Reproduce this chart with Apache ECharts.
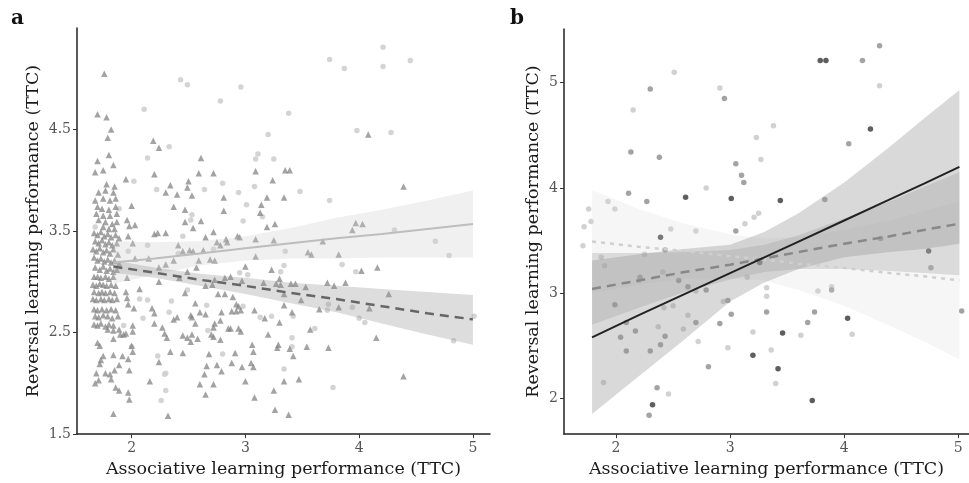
<!DOCTYPE html>
<html><head><meta charset="utf-8">
<script src="https://cdn.jsdelivr.net/npm/echarts@6/dist/echarts.min.js"></script>
<style>html,body{margin:0;padding:0;background:#fff}#c{width:969px;height:483px}</style>
</head><body><div id="c"></div>
<script>
// ---------- tick labels ----------
const xTicks = [2, 3, 4, 5];
const yTicksA = [1.5, 2.5, 3.5, 4.5];
const yTicksB = [2, 3, 4, 5];

// ---------- panel a : triangles (group 1) ----------
const aTriangles = [
[1.76,5.05],[1.70,4.65],[1.78,4.62],[1.82,4.50],[1.79,4.42],[1.80,4.25],[1.70,4.19],[1.84,4.15],[1.68,4.08],[1.75,4.10],
[2.19,4.39],[2.24,4.32],[1.95,4.01],[2.61,4.22],[2.20,4.06],[2.59,4.07],[2.72,4.07],[2.50,3.99],[2.34,3.95],[2.49,3.93],
[2.30,3.88],[2.40,3.86],[2.53,3.85],[2.37,3.74],[2.47,3.71],[2.81,3.83],[2.81,3.70],[2.00,3.75],[1.96,3.61],[1.98,3.55],
[2.03,3.56],[2.47,3.59],[2.61,3.60],[2.54,3.53],[3.09,4.09],[3.24,4.00],[3.19,3.83],[3.34,3.83],[3.35,4.10],[3.14,3.76],
[3.13,3.68],[3.19,3.54],[3.26,3.57],
[4.08,4.45],[3.39,4.10],[4.39,3.94],[3.97,3.58],[4.03,3.57],[3.94,3.51],
[3.68,3.40],[3.55,3.29],[3.58,3.27],[3.82,3.27],[4.02,3.11],[4.16,3.14],[3.40,2.98],[3.44,2.98],[3.72,2.99],[3.78,2.96],
[3.88,2.99],[3.53,2.95],[3.31,2.97],[3.34,2.88],[4.26,2.88],[3.49,2.82],[3.34,2.77],[3.65,2.73],[3.82,2.75],[4.09,2.74],
[3.41,2.70],[3.57,2.53],[4.15,2.45],[3.54,2.36],[3.73,2.35],[3.39,2.34],[3.42,2.27],[3.34,2.02],[3.47,2.04],[4.39,2.07],[3.38,1.69],
[2.20,3.47],[2.23,3.48],[2.30,3.48],[1.97,3.45],[2.01,3.38],[2.41,3.36],[2.65,3.44],[2.72,3.49],[2.45,3.30],[2.51,3.31],
[2.54,3.30],[2.63,3.31],[2.75,3.39],[2.78,3.36],[2.83,3.42],[2.84,3.39],[2.93,3.45],[2.95,3.44],[3.09,3.42],[3.25,3.41],
[3.09,3.25],[2.03,3.23],[2.15,3.23],[2.30,3.17],[2.37,3.21],[2.24,3.14],[2.59,3.21],[2.69,3.22],[2.73,3.21],[2.49,3.10],
[2.57,3.14],[2.42,3.04],[1.96,3.04],[2.24,3.00],[2.65,2.96],[2.71,2.97],[2.82,3.04],[2.87,3.05],[2.73,3.02],[3.00,3.15],
[3.23,3.12],[3.16,2.99],[3.27,2.98],[3.30,3.03],[2.97,3.01],[2.07,2.93],[2.47,2.89],[2.76,2.88],[2.82,2.88],[2.89,2.85],
[2.92,2.78],[2.94,2.76],[1.95,2.90],[1.96,2.84],[1.97,2.78],[2.56,2.79],[2.18,2.74],[2.20,2.69],[2.02,2.74],[2.37,2.63],
[2.40,2.65],[2.52,2.67],[2.53,2.65],[2.60,2.70],[2.65,2.68],[2.79,2.70],[2.88,2.71],[2.92,2.71],[2.96,2.72],[3.08,2.72],
[3.17,2.64],[3.30,2.60],[2.20,2.59],[2.27,2.55],[2.29,2.49],[2.31,2.45],[2.56,2.59],[2.73,2.59],[2.72,2.55],[2.70,2.48],
[2.72,2.46],[2.78,2.62],[2.85,2.54],[2.87,2.54],[2.94,2.54],[2.96,2.51],[2.45,2.47],[2.49,2.45],[2.52,2.41],[2.53,2.48],
[2.58,2.44],[2.78,2.43],[3.06,2.38],[3.07,2.31],[3.20,2.48],[3.29,2.38],[3.28,2.35],[2.34,2.31],[2.45,2.30],[2.24,2.21],
[2.00,2.37],[2.01,2.31],[1.92,2.27],[1.97,2.24],[2.68,2.29],[2.66,2.17],[2.64,2.09],[2.75,2.18],[2.79,2.12],[2.88,2.20],
[2.97,2.16],[3.05,2.20],[3.07,2.16],[2.91,2.30],[1.98,2.13],[2.16,2.02],[2.60,1.99],[2.72,1.99],[2.65,1.89],[3.00,2.02],
[3.08,1.86],[3.25,1.93],[3.26,1.74],[1.84,1.70],[2.32,1.68],[1.97,1.91],[1.98,1.84],[1.86,1.96],[1.89,1.93],
[1.82,2.04],[1.81,2.09],[1.77,2.10],[1.71,2.03],[1.68,2.00],[1.69,2.10],[1.73,2.23],[1.72,2.19],[1.75,2.27],[1.84,2.28],
[1.89,2.18],[1.85,2.13],[1.70,2.40],[1.72,2.37],[1.84,2.44],[1.79,2.53],[1.89,2.53],[1.90,2.48],[1.84,2.52],[1.93,2.48],
[1.95,2.49],[2.01,2.51],[2.01,2.57],
[1.78,3.96],[1.85,3.94],[1.71,3.88],[1.77,3.90],[1.84,3.88],[1.68,3.80],[1.75,3.82],[1.81,3.80],[1.86,3.82],[1.70,3.74],
[1.74,3.72],[1.80,3.71],[1.86,3.74],[1.69,3.67],[1.75,3.65],[1.81,3.65],[1.87,3.67],[1.71,3.61],[1.77,3.59],[1.83,3.57],
[1.87,3.59],[1.75,3.54],[1.80,3.52],[1.85,3.52],
[1.67,3.48],[1.70,3.46],[1.73,3.49],[1.76,3.45],[1.79,3.47],[1.82,3.44],[1.86,3.46],[1.89,3.43],[1.68,3.40],[1.71,3.38],
[1.74,3.41],[1.77,3.37],[1.80,3.39],[1.83,3.36],[1.87,3.38],[1.66,3.32],[1.69,3.30],[1.72,3.33],[1.75,3.29],[1.78,3.31],
[1.81,3.28],[1.84,3.32],[1.88,3.27],[1.67,3.24],[1.70,3.21],[1.73,3.23],[1.76,3.20],[1.79,3.22],[1.82,3.19],[1.85,3.21],
[1.89,3.18],[1.68,3.14],[1.72,3.12],[1.75,3.15],[1.78,3.11],[1.81,3.13],[1.84,3.10],[1.87,3.12],
[1.67,3.05],[1.70,3.05],[1.73,3.04],[1.77,3.05],[1.80,3.03],[1.84,3.05],[1.66,2.97],[1.69,2.96],[1.72,2.98],[1.75,2.97],
[1.78,2.96],[1.82,2.97],[1.86,2.96],[1.67,2.90],[1.71,2.89],[1.74,2.90],[1.77,2.89],[1.81,2.90],[1.85,2.89],[1.66,2.83],
[1.69,2.82],[1.73,2.83],[1.76,2.82],[1.80,2.83],[1.83,2.82],[1.87,2.83],[1.67,2.73],[1.70,2.72],[1.74,2.73],[1.78,2.72],
[1.82,2.73],[1.86,2.72],[1.68,2.66],[1.71,2.65],[1.75,2.67],[1.79,2.66],[1.83,2.64],[1.88,2.66],[1.67,2.58],[1.70,2.57],
[1.73,2.59],[1.77,2.56],[1.80,2.58],[1.84,2.57]
];
// ---------- panel a : circles (group 2) ----------
const aCircles = [
[2.43,4.99],[2.49,4.94],[2.96,4.92],[2.78,4.78],[2.11,4.70],[3.20,4.45],[2.33,4.33],[2.14,4.22],[3.11,4.26],[3.09,4.21],
[3.25,4.21],[2.02,3.99],[2.22,3.91],[2.64,3.91],[2.80,3.97],[3.08,3.94],[2.94,3.88],[3.01,3.76],[2.53,3.66],[2.52,3.61],
[2.98,3.60],[3.15,3.64],[1.68,3.54],[1.89,3.72],
[4.21,5.31],[3.74,5.19],[3.87,5.10],[4.21,5.12],[4.45,5.18],[3.38,4.66],[3.98,4.49],[4.28,4.47],[3.48,3.89],[3.74,3.80],[4.31,3.51],
[4.67,3.40],[4.79,3.26],[3.35,3.30],[3.34,3.16],[3.31,3.10],[3.85,3.17],[3.97,3.10],[3.73,2.78],[3.72,2.72],[3.94,2.75],
[4.00,2.64],[4.05,2.60],[5.01,2.66],[4.83,2.42],[3.61,2.54],[3.41,2.45],[3.41,2.36],[3.34,2.14],[3.77,1.96],[3.42,2.66],
[1.97,3.30],[2.14,3.36],[2.45,3.45],[2.72,3.32],[2.41,3.28],[2.95,3.09],[3.02,3.07],[2.07,2.83],[2.14,2.82],[2.35,2.81],
[2.49,2.92],[2.66,2.77],[2.98,2.76],[2.33,2.70],[2.10,2.64],[1.93,2.57],[3.13,2.65],[3.23,2.66],[2.67,2.52],[2.00,2.36],
[2.23,2.27],[2.80,2.29],[2.29,2.09],[2.30,2.10],[2.30,1.93],[2.26,1.83]
];
// ---------- panel a : fits ----------
const aFitX = [1.84, 2.2, 2.6, 3.0, 3.4, 3.8, 4.2, 4.6, 5.0];
const aCircleFit = [3.19, 3.23, 3.28, 3.33, 3.38, 3.43, 3.47, 3.52, 3.57];
const aCircleUpper = [3.40, 3.39, 3.40, 3.45, 3.53, 3.63, 3.71, 3.80, 3.90];
const aCircleLower = [2.98, 3.07, 3.16, 3.21, 3.23, 3.23, 3.24, 3.24, 3.24];
const aTriFit = [3.15, 3.09, 3.02, 2.96, 2.89, 2.83, 2.76, 2.69, 2.63];
const aTriUpper = [3.21, 3.14, 3.08, 3.04, 2.99, 2.96, 2.93, 2.90, 2.87];
const aTriLower = [3.09, 3.04, 2.96, 2.88, 2.79, 2.70, 2.59, 2.48, 2.38];

// ---------- panel b : three groups ----------
const bDark = [
[3.79,5.21],[3.84,5.21],[4.23,4.56],[3.44,3.88],[3.01,3.90],[2.61,3.91],[2.39,3.53],[3.26,3.29],[3.20,2.41],[2.32,1.94],
[4.74,3.40],[4.03,2.76],[3.46,2.62],[3.42,2.28],[3.72,1.98]
];
const bMid = [
[4.31,5.35],[4.16,5.21],[4.04,4.42],[3.83,3.89],[2.30,4.94],[2.95,4.85],[2.13,4.34],[2.38,4.29],[3.05,4.23],[3.10,4.12],
[3.12,4.05],[2.11,3.95],[2.27,3.87],[3.05,3.59],[2.43,3.41],[2.21,3.15],[2.55,3.12],[2.63,3.06],[2.79,3.03],[1.99,2.89],
[2.98,2.93],[2.09,2.72],[2.04,2.58],[2.17,2.64],[2.43,2.59],[2.39,2.51],[2.30,2.45],[2.09,2.45],[2.70,2.72],[3.01,2.80],
[2.91,2.71],[3.32,2.82],[2.81,2.30],[2.36,2.10],[2.29,1.84],[4.32,3.52],[4.76,3.24],[3.89,3.03],[3.74,2.82],[3.68,2.72],[5.03,2.83]
];
const bLight = [
[2.51,5.10],[2.91,4.95],[2.15,4.74],[3.23,4.48],[3.27,4.27],[2.79,4.00],[1.93,3.87],[1.99,3.80],[1.76,3.80],[1.78,3.68],
[1.72,3.63],[3.25,3.76],[3.21,3.72],[3.13,3.66],[2.48,3.61],[2.70,3.59],[1.71,3.45],[2.25,3.37],[1.87,3.34],[1.90,3.26],
[2.20,3.12],[2.41,3.20],[2.70,3.02],[2.94,2.92],[3.32,3.05],[3.32,2.97],[2.42,2.86],[2.50,2.88],[2.37,2.68],[2.63,2.79],
[2.59,2.66],[2.72,2.54],[2.98,2.48],[3.20,2.63],[1.89,2.15],[2.46,2.04],[3.15,3.15],[4.31,4.97],[3.38,4.59],[3.77,3.02],
[3.89,3.06],[4.07,2.61],[3.62,2.60],[3.36,2.46],[3.40,2.14]
];
// ---------- panel b : fits ----------
const bFitX = [1.79, 2.2, 2.6, 3.0, 3.3, 3.6, 4.0, 4.4, 4.7, 5.01];
const bDarkFit = [2.58, 2.79, 2.99, 3.19, 3.34, 3.49, 3.69, 3.89, 4.04, 4.20];
const bDarkUpper = [3.31, 3.37, 3.42, 3.46, 3.58, 3.76, 4.05, 4.39, 4.66, 4.93];
const bDarkLower = [1.85, 2.21, 2.56, 2.92, 3.10, 3.23, 3.34, 3.39, 3.42, 3.47];
const bMidFit = [3.04, 3.12, 3.20, 3.27, 3.33, 3.39, 3.47, 3.54, 3.60, 3.66];
const bMidUpper = [3.38, 3.38, 3.39, 3.41, 3.46, 3.55, 3.71, 3.87, 4.01, 4.15];
const bMidLower = [2.70, 2.86, 3.01, 3.13, 3.20, 3.23, 3.23, 3.21, 3.19, 3.17];
const bLightFit = [3.49, 3.44, 3.40, 3.35, 3.32, 3.28, 3.24, 3.19, 3.16, 3.12];
const bLightUpper = [3.98, 3.80, 3.66, 3.56, 3.52, 3.53, 3.60, 3.69, 3.78, 3.87];
const bLightLower = [3.00, 3.08, 3.14, 3.14, 3.12, 3.03, 2.88, 2.69, 2.54, 2.37];

// ---------- build ----------
const FONT = 'DejaVu Serif';
const xName = 'Associative learning performance (TTC)';
const yName = 'Reversal learning performance (TTC)';

function pairs(xs, ys){ return xs.map((x,i)=>[x, ys[i]]); }

function band(xs, up, lo, gi, color, z){
  return {
    type:'custom', xAxisIndex:gi, yAxisIndex:gi, silent:true, z:z,
    data: xs.map((x,i)=>[x, up[i], lo[i]]),
    encode:{x:0, y:[1,2]},
    clip:true,
    renderItem:function(params, api){
      if (params.dataIndex !== 0) return null;
      const pts = [];
      for (let i=0;i<xs.length;i++) pts.push(api.coord([xs[i], up[i]]));
      for (let i=xs.length-1;i>=0;i--) pts.push(api.coord([xs[i], lo[i]]));
      return {type:'polygon', shape:{points:pts}, style:{fill:color, stroke:null}};
    }
  };
}
function fitLine(xs, ys, gi, color, width, type, z){
  return {type:'line', xAxisIndex:gi, yAxisIndex:gi, data:pairs(xs, ys), symbol:'none', silent:true, z:z,
    lineStyle:{color:color, width:width, type:type, cap:'butt'}};
}
function scatter(data, gi, symbol, size, color, opacity, z){
  return {type:'scatter', xAxisIndex:gi, yAxisIndex:gi, data:data, symbol:symbol, symbolSize:size, silent:true, z:z,
    itemStyle:{color:color, opacity:opacity}};
}
function xAxis(gi, min, max){
  return {type:'value', gridIndex:gi, min:min, max:max,
    name:xName, nameLocation:'middle', nameGap:25,
    nameTextStyle:{fontFamily:FONT, fontSize:17.5, color:'#1a1a1a'},
    axisLine:{show:true, onZero:false, lineStyle:{color:'#222', width:1.5}},
    axisTick:{show:true, length:4, customValues:xTicks, lineStyle:{color:'#333', width:1}},
    axisLabel:{customValues:xTicks, fontFamily:FONT, fontSize:14, color:'#555', margin:7},
    splitLine:{show:false}};
}
function yAxis(gi, min, max, ticks, gap){
  return {type:'value', gridIndex:gi, min:min, max:max,
    name:yName, nameLocation:'middle', nameGap:gap,
    nameTextStyle:{fontFamily:FONT, fontSize:17.5, color:'#1a1a1a'},
    axisLine:{show:true, onZero:false, lineStyle:{color:'#222', width:1.5}},
    axisTick:{show:true, length:4, customValues:ticks, lineStyle:{color:'#333', width:1}},
    axisLabel:{customValues:ticks, fontFamily:FONT, fontSize:14, color:'#555', margin:6},
    splitLine:{show:false}};
}

const chart = echarts.init(document.getElementById('c'), null, {renderer:'canvas'});
chart.setOption({
  animation:false,
  backgroundColor:'#fff',
  grid:[
    {left:77, top:28, width:413, height:409},
    {left:564, top:29, width:405, height:408}
  ],
  xAxis:[ xAxis(0, 1.52, 5.15), xAxis(1, 1.544, 5.094) ],
  yAxis:[ yAxis(0, 1.5, 5.5, yTicksA, 35), yAxis(1, 1.66, 5.51, yTicksB, 22) ],
  graphic:[
    {type:'text', left:11, top:9, style:{text:'a', font:'bold 20px "DejaVu Serif"', fill:'#111'}},
    {type:'text', left:510, top:9, style:{text:'b', font:'bold 20px "DejaVu Serif"', fill:'#111'}}
  ],
  series:[
    scatter(aCircles, 0, 'circle', 5.5, '#cfcfcf', 0.9, 2),
    scatter(aTriangles, 0, 'triangle', 6.5, '#808080', 0.72, 2),
    band(aFitX, aCircleUpper, aCircleLower, 0, 'rgba(205,205,205,0.3)', 3),
    band(aFitX, aTriUpper, aTriLower, 0, 'rgba(150,150,150,0.32)', 3),
    fitLine(aFitX, aCircleFit, 0, '#bdbdbd', 2, 'solid', 4),
    fitLine(aFitX, aTriFit, 0, '#666666', 2.5, [9,6], 4),

    scatter(bLight, 1, 'circle', 5.5, '#cccccc', 0.9, 2),
    scatter(bMid, 1, 'circle', 5.5, '#999999', 0.9, 2),
    scatter(bDark, 1, 'circle', 5.5, '#555555', 0.95, 2),
    band(bFitX, bLightUpper, bLightLower, 1, 'rgba(215,215,215,0.22)', 3),
    band(bFitX, bMidUpper, bMidLower, 1, 'rgba(150,150,150,0.28)', 3),
    band(bFitX, bDarkUpper, bDarkLower, 1, 'rgba(150,150,150,0.36)', 3),
    fitLine(bFitX, bLightFit, 1, '#cfcfcf', 2.5, [4,5], 4),
    fitLine(bFitX, bMidFit, 1, '#888888', 2.5, [9,6], 4),
    fitLine(bFitX, bDarkFit, 1, '#222222', 2, 'solid', 4)
  ]
});
</script>
</body></html>
